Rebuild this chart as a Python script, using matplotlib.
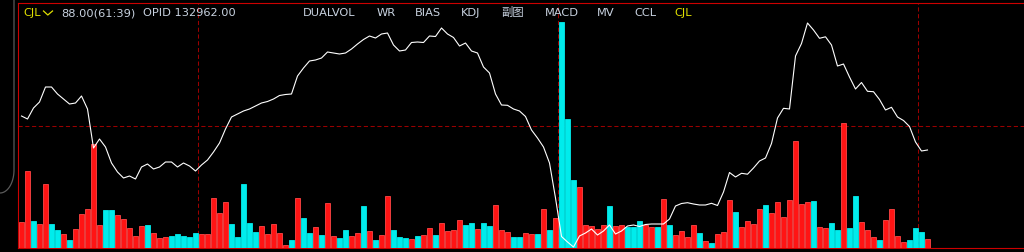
import matplotlib
matplotlib.use("Agg")
import matplotlib.pyplot as plt
from matplotlib.lines import Line2D
import numpy as np

# ---- data ----
volume = [26, 77, 27, 24, 64, 24, 18, 14, 8, 19, 34, 39, 104, 23, 38, 38, 33, 29, 20, 12,
          22, 23, 15, 10, 11, 12, 14, 12, 11, 15, 14, 14, 50, 35, 46, 24, 11, 64, 25, 16,
          22, 14, 24, 15, 3, 8, 50, 30, 15, 21, 13, 45, 12, 10, 18, 12, 15, 42, 17, 8,
          13, 52, 18, 11, 10, 9, 12, 13, 20, 13, 25, 17, 18, 28, 23, 25, 19, 25, 22, 43,
          18, 16, 11, 11, 15, 14, 14, 39, 18, 30, 226, 129, 68, 61, 23, 22, 19, 23, 42, 22,
          23, 21, 21, 27, 23, 21, 21, 49, 23, 13, 17, 11, 23, 15, 7, 5, 14, 16, 48, 36,
          21, 27, 24, 39, 43, 35, 46, 31, 48, 107, 44, 46, 47, 21, 20, 25, 18, 125, 20, 52,
          26, 18, 11, 8, 28, 39, 12, 6, 8, 20, 16, 9]

# 1 = up (red), 0 = down (cyan)
direction = [1, 1, 0, 1, 1, 0, 0, 1, 0, 1, 1, 1, 1, 1, 0, 0, 1, 1, 1, 1,
             1, 0, 1, 1, 1, 0, 0, 0, 0, 0, 1, 1, 1, 1, 1, 0, 0, 0, 0, 0,
             1, 1, 1, 1, 1, 0, 1, 0, 0, 1, 0, 1, 1, 0, 0, 1, 1, 0, 1, 0,
             1, 1, 0, 0, 0, 1, 0, 1, 1, 0, 1, 1, 1, 1, 0, 0, 1, 0, 0, 1,
             1, 1, 0, 0, 1, 1, 0, 1, 0, 1, 0, 0, 0, 1, 1, 1, 1, 1, 0, 1,
             1, 0, 0, 0, 1, 1, 0, 1, 0, 1, 1, 1, 1, 0, 1, 0, 1, 1, 1, 0,
             1, 1, 1, 1, 0, 1, 1, 1, 1, 1, 1, 1, 0, 1, 1, 0, 0, 1, 0, 0,
             1, 1, 1, 0, 1, 1, 1, 1, 0, 0, 0, 1]

cjl_line = [132, 129, 140, 146, 161, 161, 154, 149, 144, 145, 152, 139, 100, 109, 101, 85, 76, 70, 72, 69,
            81, 84, 79, 81, 86, 86, 81, 85, 82, 77, 83, 88, 96, 105, 119, 131, 134, 137, 139, 142,
            145, 146.5, 149, 152.5, 153.5, 154, 172, 180, 187, 188, 190, 196, 195, 194, 195, 199, 204, 208.5, 212, 210,
            214, 215, 203, 197, 198, 205.5, 206, 205.5, 212, 211.5, 220, 214, 210.5, 202, 205, 197, 195, 181, 175, 154,
            143, 142.7, 139, 137, 131.5, 118, 110, 101, 85, 50, 11.5, 6, 1, 12, 15, 19, 13, 17, 23, 14,
            17, 22, 23, 21.5, 23.5, 24, 24, 24, 29, 42, 44.5, 45.3, 44, 43, 43, 44.7, 42.5, 56, 75.5, 71,
            74.7, 73.8, 80, 87, 90, 104.5, 130, 139.7, 139, 192, 204.5, 225, 218, 209.7, 211.2, 203, 182, 184, 171, 159,
            165.5, 156.7, 156.3, 148.5, 138, 140.7, 131, 127.5, 121.5, 106, 97, 98]

header_left = ["CJL", "88.00(61:39)", "OPID 132962.00"]
tabs = ["DUALVOL", "WR", "BIAS", "KDJ", "副图", "MACD", "MV", "CCL", "CJL"]

# ---- layout constants ----
W, H = 1024, 252
RED = "#ff1414"
RED_EDGE = "#ff4646"
CYAN = "#00ecec"
GRID = "#9a0000"
SPINE = "#cc0000"
TXT = "#c8d2e0"
YEL = "#e0e000"

fig = plt.figure(figsize=(W / 100, H / 100), dpi=100, facecolor="black")
ax = fig.add_axes([18 / W, 4 / H, (W - 18) / W, 245 / H])
ax.set_facecolor("black")

n = len(volume)
x = np.arange(n)
colors = [RED if d else CYAN for d in direction]
edges = [RED_EDGE if d else CYAN for d in direction]

ax.bar(x, volume, width=0.78, color=colors, edgecolor=edges, linewidth=0.6, zorder=3)
ax.plot(x, cjl_line, color="white", lw=0.8, zorder=4)

x0 = -0.5833
ax.set_xlim(x0, x0 + (W - 18) / 6.0)
ax.set_ylim(0, 245)

# grid (dashed dark red)
ax.axhline(121.7, color=GRID, lw=0.75, ls=(0, (4, 2.5)), zorder=1)
for gx in (29.5, 89.5, 149.5):
    ax.axvline(gx, color=GRID, lw=0.75, ls=(0, (4, 2.5)), zorder=1)

for s in ("top", "left", "bottom"):
    ax.spines[s].set_color(SPINE)
    ax.spines[s].set_linewidth(0.8)
ax.spines["right"].set_visible(False)
ax.set_xticks([])
ax.set_yticks([])

# window corner (gray)
t = np.linspace(0, np.pi / 2, 20)
cx = np.concatenate([[14, 14], 14 - 14 * (1 - np.cos(t))])
cy = np.concatenate([[0, 170], 170 + 23 * np.sin(t)])
fig.add_artist(Line2D(cx / W, 1 - cy / H, color="#5a5a5a", lw=0.9, transform=fig.transFigure))

# header texts
fam = ["DejaVu Sans", "Noto Sans CJK SC"]
fs = 8.2
yb = 1 - 16 / H
fig.text(23 / W, yb, header_left[0], color=YEL, fontsize=fs, family=fam, va="baseline", ha="left")
fig.add_artist(Line2D(np.array([43.5, 47.8, 52.5]) / W, 1 - np.array([11, 15, 11]) / H,
                      color=YEL, lw=0.9, transform=fig.transFigure))
fig.text(61 / W, yb, header_left[1], color=TXT, fontsize=fs, family=fam, va="baseline", ha="left")
fig.text(143 / W, yb, header_left[2], color=TXT, fontsize=fs, family=fam, va="baseline", ha="left")

tab_x = [303, 377, 415, 461, 501, 545, 597, 634, 674]
for lbl, tx in zip(tabs, tab_x):
    c = YEL if lbl == "CJL" else TXT
    fig.text(tx / W, yb, lbl, color=c, fontsize=fs, family=fam, va="baseline", ha="left")

fig.savefig("out.png", dpi=100, facecolor="black")
